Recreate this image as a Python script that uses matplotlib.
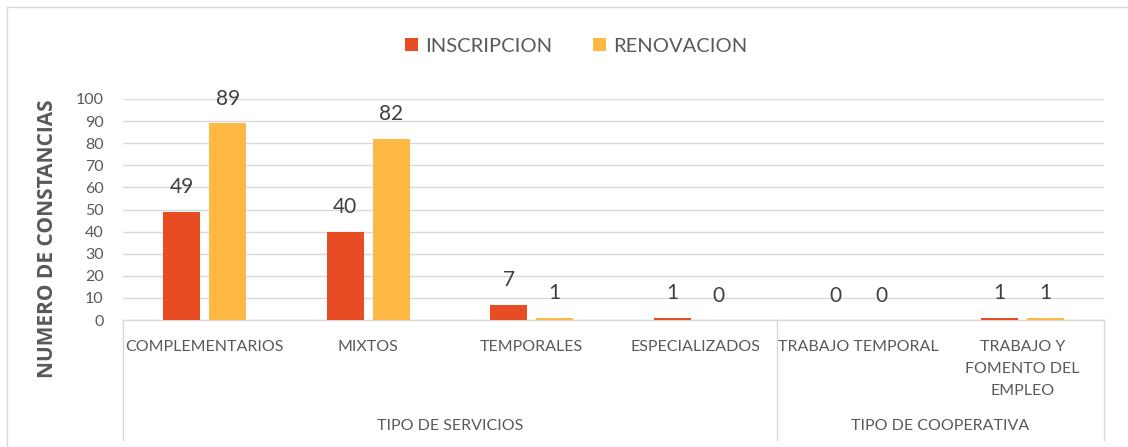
import matplotlib
matplotlib.use("Agg")
import matplotlib.pyplot as plt
from matplotlib.patches import Rectangle
from matplotlib.lines import Line2D
import numpy as np

categories = ["COMPLEMENTARIOS", "MIXTOS", "TEMPORALES", "ESPECIALIZADOS",
              "TRABAJO TEMPORAL", "TRABAJO Y\nFOMENTO DEL\nEMPLEO"]
groups = ["TIPO DE SERVICIOS", "TIPO DE COOPERATIVA"]
group_sizes = [4, 2]
inscripcion = [49, 40, 7, 1, 0, 1]
renovacion = [89, 82, 1, 0, 0, 1]
series_names = ["INSCRIPCION", "RENOVACION"]
colors = ["#E84C22", "#FFB843"]

plt.rcParams['font.family'] = ['Lato', 'DejaVu Sans']
W, H = 1128, 447
fig = plt.figure(figsize=(W/100, H/100), dpi=100)

def fx(px): return px / W
def fy(py): return 1 - py / H

ax = fig.add_axes([fx(123), fy(320), fx(1104) - fx(123), fy(99) - fy(320)])
n = len(categories)
x = np.arange(n)
bw = 0.225
off = 0.14
gray_txt = "#595959"
b1 = ax.bar(x - off, inscripcion, bw, color=colors[0], label=series_names[0], zorder=3)
b2 = ax.bar(x + off, renovacion, bw, color=colors[1], label=series_names[1], zorder=3)
for bars, vals in ((b1, inscripcion), (b2, renovacion)):
    for r, v in zip(bars, vals):
        ax.text(r.get_x() + r.get_width()/2, v + 6.5, str(v), ha='center', va='bottom',
                fontsize=15, color="#404040")
ax.set_xlim(-0.5, n - 0.5)
ax.set_ylim(0, 100)
ax.set_yticks(range(0, 101, 10))
ax.tick_params(axis='y', length=0, labelsize=11.5, labelcolor=gray_txt, pad=14)
ax.set_xticks([])
ax.yaxis.grid(True, color="#D9D9D9", linewidth=1, zorder=0)
for s in ['top', 'right', 'left']:
    ax.spines[s].set_visible(False)
ax.spines['bottom'].set_color("#D9D9D9")
ax.spines['bottom'].set_linewidth(1)
ax.set_axisbelow(True)

# category labels
for i, c in enumerate(categories):
    ax.text(i, -9, c, ha='center', va='top', fontsize=11.5, color=gray_txt,
            linespacing=1.75, transform=ax.transData, clip_on=False)
# group labels and separators
trans = ax.get_xaxis_transform()
start = 0
bounds = [-0.5]
for g, sz in zip(groups, group_sizes):
    center = start + (sz - 1) / 2
    ax.text(center, -0.478, g, ha='center', va='center', fontsize=11.5, color=gray_txt,
            transform=trans, clip_on=False)
    start += sz
    bounds.append(start - 0.5)
for b in bounds:
    ax.add_line(Line2D([b, b], [0, -0.545], transform=trans, color="#D9D9D9",
                       linewidth=1, clip_on=False))

ax.set_ylabel("NUMERO DE CONSTANCIAS", fontsize=15, fontweight='bold', color=gray_txt,
              family=['Open Sans', 'DejaVu Sans'])
ax.yaxis.set_label_coords(-0.066, 0.37)

leg = fig.legend(handles=[b1, b2], loc='center', bbox_to_anchor=(fx(576), fy(46)), ncol=2,
                 frameon=False, fontsize=14.5, handlelength=0.65, handleheight=0.65,
                 columnspacing=2.0, handletextpad=0.35, labelcolor=gray_txt)

fig.patches.append(Rectangle((fx(7), fy(H + 20)), fx(W + 20) - fx(7), fy(7) - fy(H + 20),
                             transform=fig.transFigure, fill=False, edgecolor="#D9D9D9",
                             linewidth=1))
fig.savefig("out.png", dpi=100)
